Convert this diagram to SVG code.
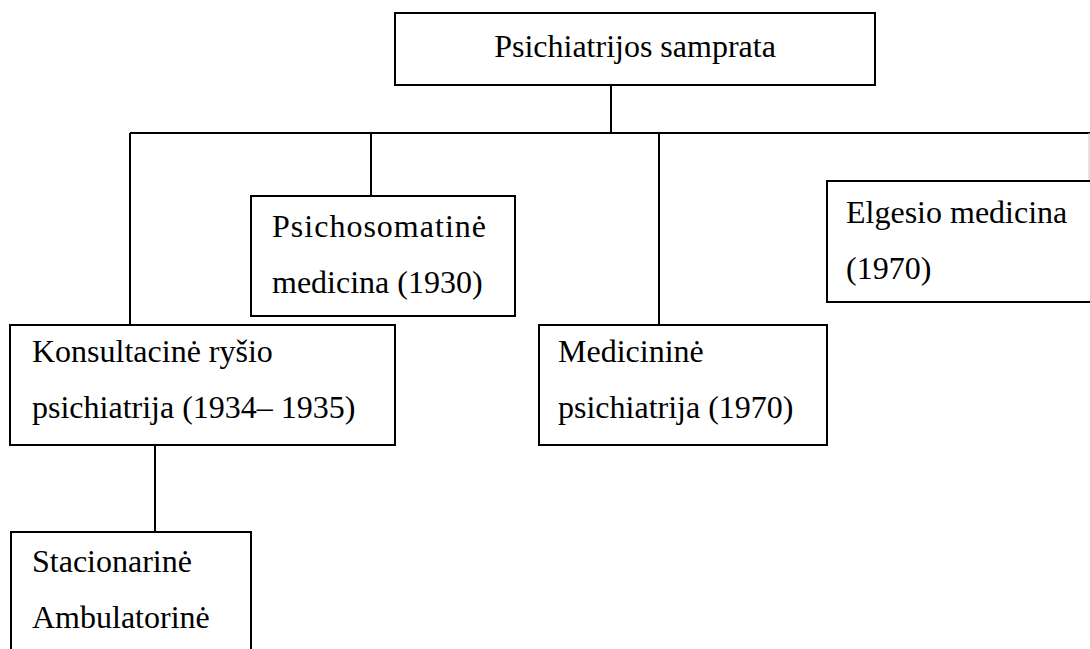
<svg xmlns="http://www.w3.org/2000/svg" width="1090" height="649" viewBox="0 0 1090 649">
<style>
.box{fill:#fff;stroke:#000;stroke-width:2}
.ln{fill:none;stroke:#000;stroke-width:2}
text{font-family:"Liberation Serif","Times New Roman",serif;font-size:32px;fill:#000}
</style>
<rect width="1090" height="649" fill="#fff"/>
<g id="connectors">
<line class="ln" x1="611" y1="85" x2="611" y2="133"/>
<line class="ln" x1="130" y1="133" x2="1090" y2="133"/>
<line class="ln" x1="130" y1="133" x2="130" y2="325"/>
<line class="ln" x1="371" y1="133" x2="371" y2="196"/>
<line class="ln" x1="659" y1="133" x2="659" y2="325"/>
<line x1="1089" y1="133" x2="1089" y2="181" stroke="#c8c8c8" stroke-width="1"/>
<line class="ln" x1="155" y1="445" x2="155" y2="532"/>
</g>
<g id="n-top">
<rect class="box" x="395" y="13" width="480" height="72"/>
<text x="635" y="57" text-anchor="middle">Psichiatrijos samprata</text>
</g>
<g id="n-psichosomatine">
<rect class="box" x="251" y="196" width="264" height="120"/>
<text x="272" y="237" textLength="214" lengthAdjust="spacing">Psichosomatinė</text>
<text x="272" y="293">medicina (1930)</text>
</g>
<g id="n-elgesio">
<rect class="box" x="827" y="181" width="270" height="121"/>
<text x="846" y="223">Elgesio medicina</text>
<text x="846" y="279">(1970)</text>
</g>
<g id="n-konsultacine">
<rect class="box" x="10" y="325" width="385" height="120"/>
<text x="32" y="362">Konsultacinė ryšio</text>
<text x="32" y="418">psichiatrija (1934– 1935)</text>
</g>
<g id="n-medicinine">
<rect class="box" x="539" y="325" width="288" height="120"/>
<text x="558" y="362">Medicininė</text>
<text x="558" y="418">psichiatrija (1970)</text>
</g>
<g id="n-stacionarine">
<rect class="box" x="11" y="532" width="240" height="130"/>
<text x="32" y="572">Stacionarinė</text>
<text x="32" y="628">Ambulatorinė</text>
</g>
</svg>
